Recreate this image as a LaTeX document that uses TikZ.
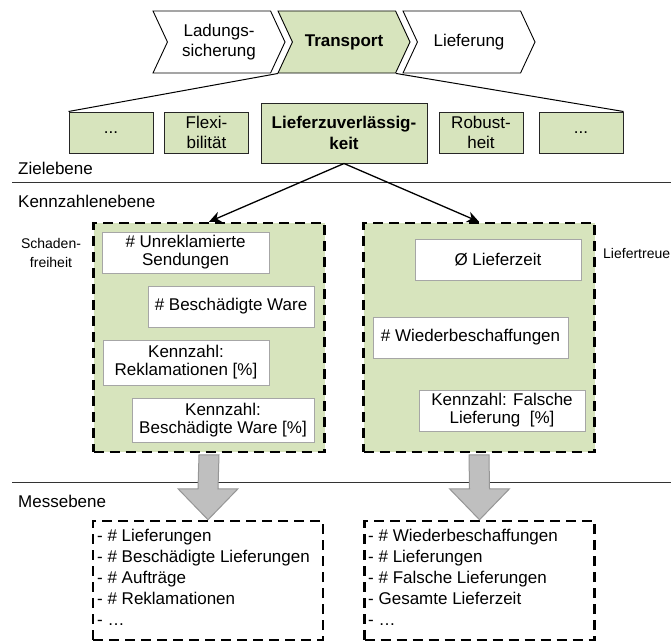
\documentclass[tikz,border=0pt]{standalone}
\usepackage{fontspec}
\setmainfont{Liberation Sans}
\usepackage{tikz}
\usetikzlibrary{arrows.meta}
\usetikzlibrary{shapes.symbols}
\usetikzlibrary{calc}
\definecolor{lgreen}{RGB}{215,228,189}
\definecolor{lgrey}{RGB}{166,166,166}
\definecolor{agrey}{RGB}{191,191,191}
\definecolor{bgrey}{RGB}{150,150,150}

\begin{document}
\begin{tikzpicture}[x=1pt,y=-1pt,>={Stealth[length=12pt,width=11pt]},node distance=125pt]
      \tikzstyle{every node}=[font=\fontsize{17}{18}\selectfont]
      \tikzstyle{phase}=[signal,signal from=west,signal to=east,signal pointer angle=130,draw=black,line width=0.9pt,minimum width=132pt,minimum height=62pt,align=center,font=\fontsize{17}{20}\selectfont]
      \tikzstyle{goal}=[draw=black!85,fill=lgreen,line width=1pt,minimum width=84pt,minimum height=41pt,align=center,font=\fontsize{17}{20}\selectfont]
      \tikzstyle{group}=[draw=black,fill=lgreen,line width=2.5pt,dash pattern=on 10pt off 6pt,minimum width=231pt,minimum height=229pt]
      \tikzstyle{kpi}=[draw=lgrey,fill=white,line width=1pt,minimum height=41pt,align=center]
      \tikzstyle{measure}=[draw=black,line width=2.5pt,dash pattern=on 10pt off 6pt,minimum width=230pt,minimum height=119pt]
      \tikzstyle{item}=[anchor=base west,inner sep=0pt]
      \tikzstyle{level}=[anchor=west,inner sep=0pt]
      \tikzstyle{side}=[font=\fontsize{14}{19}\selectfont,align=center,inner sep=0pt]
      \tikzstyle{sep}=[draw=black!80,line width=1pt]
      \tikzstyle{fat}=[draw=bgrey,fill=agrey,line width=1pt]

      \useasboundingbox (0,0) rectangle (671,642);

      % Prozesskette
      \node[phase]		(lad) at (219,42) {Ladungs-\\sicherung};
      \node[phase,fill=lgreen,font=\bfseries\fontsize{17}{20}\selectfont]		(tra) [right of = lad] {Transport};
      \node[phase]		(lie) [right of = tra] {Lieferung};

      % Zielebene
      \node[goal]		(g1) at (111,132.5) {...};
      \node[goal]		(g2) at (206.5,132.5) {Flexi-\\bilität};
      \node[goal,minimum width=166pt,minimum height=60pt,font=\bfseries\fontsize{17}{21}\selectfont]		(lzv) at (344,133) {Lieferzuverlässig-\\keit};
      \node[goal]		(g4) at (481,132.5) {Robust-\\heit};
      \node[goal]		(g5) at (581,132.5) {...};
      \draw[line width=1pt] ($(tra.south)+(-66,0)$) -- (g1.north west);
      \draw[line width=1pt] ($(tra.south)+(52,0)$) -- (g5.north east);

      \node[level]		(zlab) at (18,168) {Zielebene};
      \draw[sep] (12,182) -- (671,182);
      \node[level]		(klab) at (18,201) {Kennzahlenebene};

      % Kennzahlenebene
      \node[group]		(kzl) at (209,337.5) {};
      \node[group]		(kzr) at (479,337.5) {};
      \node[side]		(sf) at (51,252.5) {Schaden-\\freiheit};
      \node[side,anchor=west]		(lt) at (603,253) {Liefertreue};

      \node[kpi,minimum width=167pt]		(k1) at (185.5,252.5) {\# Unreklamierte\\Sendungen};
      \node[kpi,minimum width=166pt]		(k2) at (231,306.5) {\# Beschädigte Ware};
      \node[kpi,minimum width=166pt,minimum height=45pt]		(k3) at (186,362.5) {Kennzahl:\\Reklamationen [\%]};
      \node[kpi,minimum width=182pt,minimum height=44pt]		(k4) at (223,420) {Kennzahl:\\Beschädigte Ware [\%]};
      \node[kpi,minimum width=166pt]		(k5) at (498,259.5) {Ø Lieferzeit};
      \node[kpi,minimum width=195pt]		(k6) at (470.5,337.5) {\# Wiederbeschaffungen};
      \node[kpi,minimum width=166pt]		(k7) at (502,410.5) {Kennzahl: Falsche\\Lieferung\ \ [\%]};

      \draw[->,line width=1.3pt] (lzv.south) -- (kzl.north);
      \draw[->,line width=1.3pt] (lzv.south) -- (kzr.north);

      % Messebene
      \draw[sep] (12,482) -- (671,482);
      \node[level]		(mlab) at (18,501) {Messebene};
      \node[measure]		(msl) at (208,580.5) {};
      \node[measure]		(msr) at (479.5,580.5) {};

      \foreach \txt [count=\i] in {- \# Lieferungen, - \# Beschädigte Lieferungen, - \# Aufträge, - \# Reklamationen, - \ldots}
        \node[item] (itl\i) at (97,{520+21*\i}) {\txt};
      \foreach \txt [count=\i] in {- \# Wiederbeschaffungen, - \# Lieferungen, - \# Falsche Lieferungen, - Gesamte Lieferzeit, - \ldots}
        \node[item] (itr\i) at (368,{520+21*\i}) {\txt};

      \foreach \a/\b in {kzl/msl,kzr/msr}
        \draw[fat] ($(\a.south)+(-10,1.5)$) -- ($(\b.north)+(-10,-31)$) -- ($(\b.north)+(-30,-31)$) -- (\b.north)
          -- ($(\b.north)+(30,-31)$) -- ($(\b.north)+(10,-31)$) -- ($(\a.south)+(10,1.5)$) -- cycle;
  \end{tikzpicture}
\end{document}
